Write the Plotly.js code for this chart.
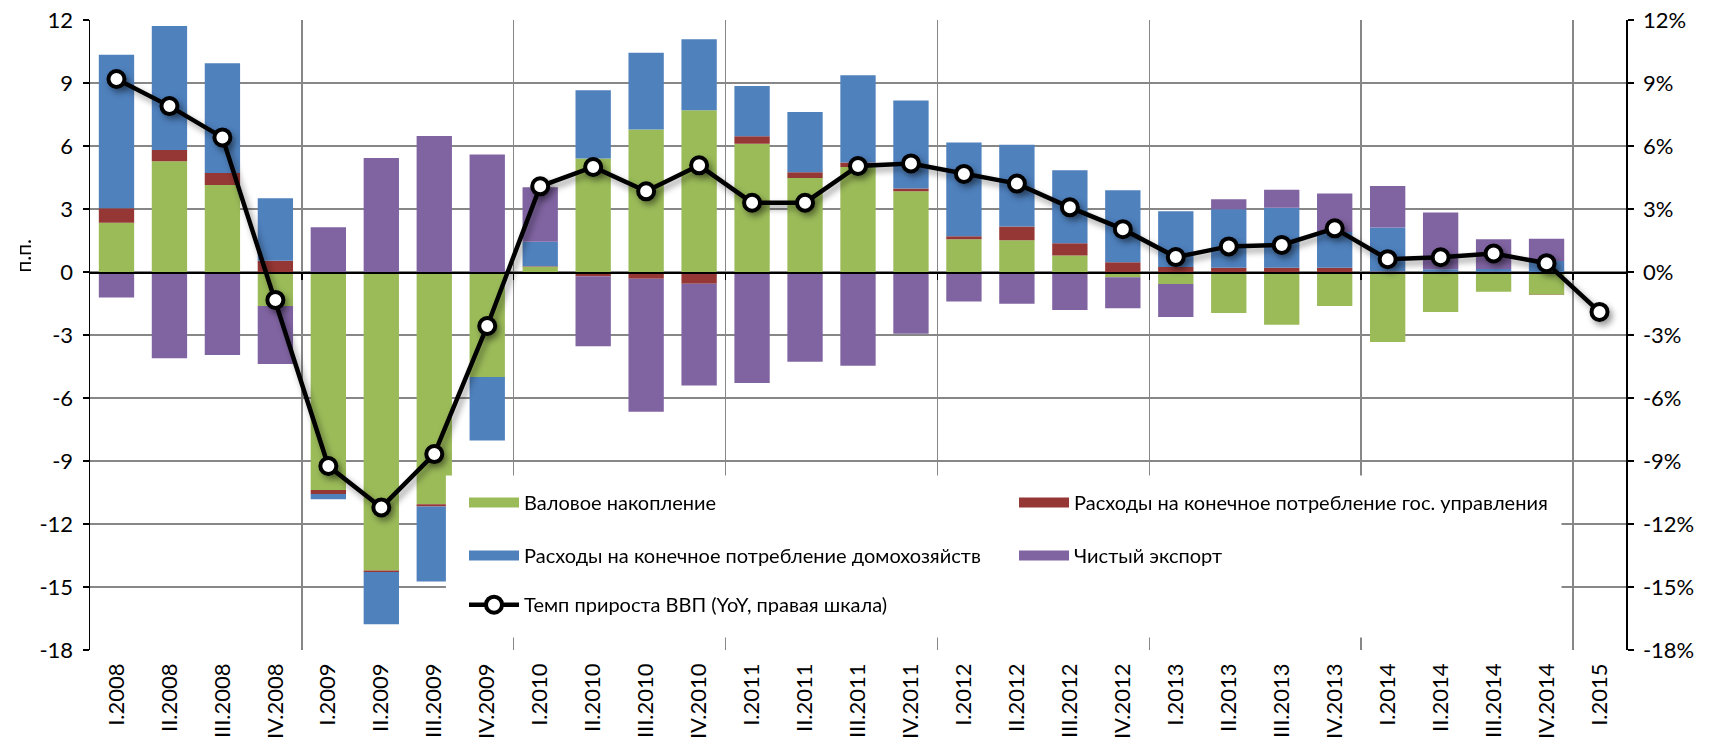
<!DOCTYPE html>
<html>
<head>
<meta charset="utf-8">
<script src="https://cdn.plot.ly/plotly-3.0.1.min.js"></script>
<style>
  html, body { margin: 0; padding: 0; background: #fff; }
  #chart { width: 1723px; height: 746px; }
  /* soft shadow under the GDP line, like the Excel original */
  #chart .scatterlayer .trace .js-line,
  #chart .scatterlayer .trace .points { filter: drop-shadow(3px 4px 3px rgba(0,0,0,0.4)); }
</style>
</head>
<body>
<div id="chart"></div>
<script>
const quarters = [
  "I.2008", "II.2008", "III.2008", "IV.2008",
  "I.2009", "II.2009", "III.2009", "IV.2009",
  "I.2010", "II.2010", "III.2010", "IV.2010",
  "I.2011", "II.2011", "III.2011", "IV.2011",
  "I.2012", "II.2012", "III.2012", "IV.2012",
  "I.2013", "II.2013", "III.2013", "IV.2013",
  "I.2014", "II.2014", "III.2014", "IV.2014",
  "I.2015"
];

// contributions to GDP growth, p.p.
const investment = [2.35, 5.27, 4.14, -1.62, -10.38, -14.21, -11.06, -5.00, 0.25, 5.41, 6.79, 7.70, 6.11, 4.48, 5.00, 3.84, 1.56, 1.51, 0.79, -0.25, -0.57, -1.95, -2.51, -1.62, -3.33, -1.90, -0.94, -1.08, null];
const government = [0.68, 0.54, 0.57, 0.54, -0.19, -0.08, -0.11, 0.00, 0.02, -0.20, -0.32, -0.56, 0.35, 0.27, 0.22, 0.14, 0.14, 0.66, 0.58, 0.46, 0.24, 0.20, 0.20, 0.20, 0.02, 0.01, 0.01, -0.02, null];
const households = [7.32, 5.90, 5.23, 2.97, -0.25, -2.48, -3.57, -3.02, 1.17, 3.24, 3.65, 3.38, 2.40, 2.87, 4.15, 4.19, 4.47, 3.89, 3.47, 3.43, 2.65, 2.79, 2.86, 1.71, 2.10, 0.12, 0.13, 0.52, null];
const netExports = [-1.22, -4.11, -3.95, -2.76, 2.13, 5.43, 6.48, 5.59, 2.59, -3.34, -6.33, -4.85, -5.29, -4.27, -4.46, -2.94, -1.40, -1.51, -1.81, -1.48, -1.57, 0.48, 0.86, 1.83, 1.98, 2.70, 1.42, 1.06, null];

// GDP growth, % YoY (right axis)
const gdpGrowth = [9.19, 7.90, 6.41, -1.33, -9.24, -11.21, -8.67, -2.57, 4.08, 5.00, 3.84, 5.08, 3.30, 3.30, 5.05, 5.17, 4.67, 4.21, 3.08, 2.04, 0.71, 1.22, 1.29, 2.08, 0.61, 0.70, 0.88, 0.42, -1.90];

// axis ticks, both scales
const axisTicks = [-18, -15, -12, -9, -6, -3, 0, 3, 6, 9, 12];

const seriesNames = [
  "Валовое накопление",
  "Расходы на конечное потребление гос. управления",
  "Расходы на конечное потребление домохозяйств",
  "Чистый экспорт"
];
const lineName = "Темп прироста ВВП (YoY, правая шкала)";
const colors = ["#9BBB59", "#953735", "#4F81BD", "#8064A2"];
const legendRows = ["legend", "legend", "legend2", "legend2"];

const FONT = 'Lato, "Open Sans", sans-serif';
const GRID = "#878787";

// year boundaries for the vertical grid
const yearBreaks = quarters
  .map((q, i) => (i > 0 && q.startsWith("I.") ? i - 0.5 : null))
  .filter((v) => v !== null);

const barData = [investment, government, households, netExports];

const traces = barData.map((vals, i) => ({
  type: "bar",
  x: quarters,
  y: vals,
  name: seriesNames[i],
  marker: { color: colors[i], line: { width: 0 } },
  showlegend: false,
  hoverinfo: "skip",
}));

// wide legend swatches like Excel
seriesNames.forEach((n, i) => {
  traces.push({
    type: "scatter",
    mode: "lines",
    x: [null],
    y: [null],
    name: n,
    line: { color: colors[i], width: 11 },
    legend: legendRows[i],
    hoverinfo: "skip",
  });
});

// empty trace so the grid axis (x2) gets drawn
traces.push({
  type: "scatter",
  mode: "lines",
  x: [null],
  y: [null],
  xaxis: "x2",
  showlegend: false,
  hoverinfo: "skip",
});

traces.push({
  type: "scatter",
  mode: "lines+markers",
  x: quarters,
  y: gdpGrowth,
  yaxis: "y2",
  name: lineName,
  line: { color: "#000", width: 4.5 },
  marker: { symbol: "circle", size: 16, color: "#fff", line: { color: "#000", width: 4 } },
  legend: "legend3",
  hoverinfo: "skip",
});

const yMin = -18, yMax = 12;

const legendBase = {
  orientation: "h",
  x: 0.2435,
  xanchor: "left",
  yanchor: "middle",
  bgcolor: "rgba(0,0,0,0)",
  borderwidth: 0,
  itemwidth: 50,
  entrywidth: 485,
  entrywidthmode: "pixels",
  font: { family: FONT, size: 20, color: "#000" },
};

const axisStyle = {
  range: [yMin, yMax],
  tickmode: "array",
  tickvals: axisTicks,
  zeroline: false,
  showline: true,
  linecolor: "#000",
  linewidth: 1.5,
  ticks: "outside",
  ticklen: 6,
  tickwidth: 1.5,
  tickcolor: "#000",
  tickfont: { family: FONT, size: 22, color: "#000" },
  ticklabelstandoff: 5,
  fixedrange: true,
};

const layout = {
  width: 1723,
  height: 746,
  margin: { l: 90, r: 97, t: 20, b: 96 },
  paper_bgcolor: "#fff",
  plot_bgcolor: "#fff",
  barmode: "relative",
  bargap: 0.333,
  hovermode: false,
  font: { family: FONT, size: 20, color: "#000" },
  xaxis: {
    type: "category",
    range: [-0.5, quarters.length - 0.5],
    showgrid: false,
    zeroline: false,
    showline: false,
    ticks: "",
    tickangle: -90,
    tickfont: { family: FONT, size: 22, color: "#000" },
    ticklabelstandoff: 8,
    fixedrange: true,
  },
  // vertical grid at year boundaries + the category axis line at zero
  xaxis2: {
    overlaying: "x",
    type: "linear",
    range: [-0.5, quarters.length - 0.5],
    tickmode: "array",
    tickvals: yearBreaks,
    showticklabels: false,
    showgrid: true,
    gridcolor: GRID,
    gridwidth: 1.5,
    zeroline: false,
    anchor: "free",
    position: (0 - yMin) / (yMax - yMin),
    showline: true,
    linecolor: "#000",
    linewidth: 1.5,
    ticks: "outside",
    ticklen: 6,
    tickwidth: 1.5,
    tickcolor: "#000",
    fixedrange: true,
  },
  yaxis: Object.assign({}, axisStyle, {
    ticktext: axisTicks.map((v) => String(v)),
    showgrid: true,
    gridcolor: GRID,
    gridwidth: 1.5,
  }),
  yaxis2: Object.assign({}, axisStyle, {
    ticktext: axisTicks.map((v) => v + "%"),
    overlaying: "y",
    side: "right",
    showgrid: false,
  }),
  legend: Object.assign({}, legendBase, { y: 0.234 }),
  legend2: Object.assign({}, legendBase, { y: 0.150 }),
  legend3: Object.assign({}, legendBase, { y: 0.072 }),
  shapes: [
    {
      // legend box (white, covers grid like in Excel)
      type: "rect",
      xref: "paper",
      yref: "paper",
      x0: 0.2317,
      x1: 0.958,
      y0: 0.02,
      y1: 0.277,
      fillcolor: "#fff",
      line: { width: 0 },
      layer: "above",
    },
  ],
  annotations: [
    {
      text: "п.п.",
      xref: "paper",
      yref: "y",
      x: -0.044,
      xanchor: "center",
      y: 0.8,
      yanchor: "middle",
      textangle: -90,
      showarrow: false,
      font: { family: FONT, size: 21, color: "#000" },
    },
  ],
};

Plotly.newPlot("chart", traces, layout, { displayModeBar: false, staticPlot: true });
</script>
</body>
</html>
